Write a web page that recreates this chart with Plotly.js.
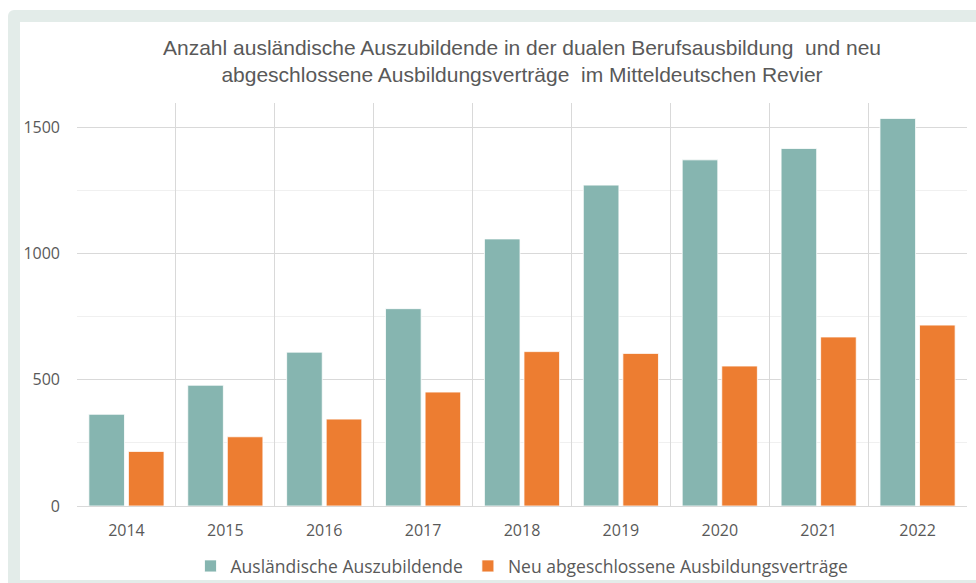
<!DOCTYPE html>
<html>
<head>
<meta charset="utf-8">
<script src="https://cdn.plot.ly/plotly-3.0.1.min.js"></script>
<style>
  html, body { margin: 0; padding: 0; background: #ffffff; width: 976px; height: 583px; overflow: hidden; }
  #frame { position: absolute; left: 8px; top: 10px; width: 1000px; height: 600px; background: #e3ece9; border-radius: 6px; }
  #inner { position: absolute; left: 20px; top: 22px; width: 960px; height: 558px; background: #ffffff; }
  #chart { position: absolute; left: 0; top: 0; width: 976px; height: 583px; }
</style>
</head>
<body>
<div id="frame"></div>
<div id="inner"></div>
<div id="chart"></div>
<script>
const years = ['2014', '2015', '2016', '2017', '2018', '2019', '2020', '2021', '2022'];
const auslaendische = [363, 478, 609, 781, 1057, 1270, 1370, 1415, 1534];
const neuVertraege = [216, 274, 344, 451, 611, 604, 554, 669, 716];
const seriesNames = ['Ausländische Auszubildende', 'Neu abgeschlossene Ausbildungsverträge'];
const yTicks = [0, 500, 1000, 1500];

const traces = [
  {
    type: 'bar', name: seriesNames[0], x: years, y: auslaendische,
    marker: { color: '#86b5b0', line: { color: '#ffffff', width: 0.8 } },
    hoverinfo: 'x+y'
  },
  {
    type: 'bar', name: seriesNames[1], x: years, y: neuVertraege,
    marker: { color: '#ed7d31', line: { color: '#ffffff', width: 0.8 } },
    hoverinfo: 'x+y'
  }
];

const layout = {
  width: 976, height: 583,
  paper_bgcolor: 'rgba(0,0,0,0)',
  plot_bgcolor: 'rgba(0,0,0,0)',
  margin: { l: 77, r: 9, t: 103, b: 77, autoexpand: false },
  barmode: 'group',
  bargap: 0.2,
  bargroupgap: 0.1,
  title: {
    text: 'Anzahl ausländische Auszubildende in der dualen Berufsausbildung  und neu<br>abgeschlossene Ausbildungsverträge  im Mitteldeutschen Revier',
    font: { family: 'Liberation Sans, Arial, sans-serif', size: 21, color: '#595959' },
    x: 0.5, xref: 'paper', xanchor: 'center',
    y: 0.906, yref: 'container', yanchor: 'top'
  },
  xaxis: {
    type: 'category',
    tickson: 'boundaries',
    ticks: '',
    showgrid: true, gridcolor: '#d9d9d9', gridwidth: 1,
    showline: true, linecolor: '#d9d9d9', linewidth: 1,
    tickfont: { family: 'Open Sans, sans-serif', size: 16, color: '#595959' },
    ticklabelstandoff: 10,
    automargin: false,
    fixedrange: true
  },
  yaxis: {
    range: [0, 1595],
    tickvals: yTicks,
    ticktext: yTicks.map(String),
    showgrid: true, gridcolor: '#d9d9d9', gridwidth: 1,
    zeroline: false,
    showline: false,
    minor: { dtick: 250, showgrid: true, gridcolor: '#f0f0f0', gridwidth: 1, ticks: '' },
    tickfont: { family: 'Open Sans, sans-serif', size: 16, color: '#595959' },
    ticklabelstandoff: 16,
    automargin: false,
    fixedrange: true
  },
  showlegend: true,
  legend: {
    orientation: 'h',
    x: 0.5, xanchor: 'center',
    y: -0.149, yanchor: 'middle',
    font: { family: 'Open Sans, sans-serif', size: 17.5, color: '#595959' },
    itemwidth: 30,
    traceorder: 'normal'
  }
};

Plotly.newPlot('chart', traces, layout, { displayModeBar: false, staticPlot: true });
</script>
</body>
</html>
